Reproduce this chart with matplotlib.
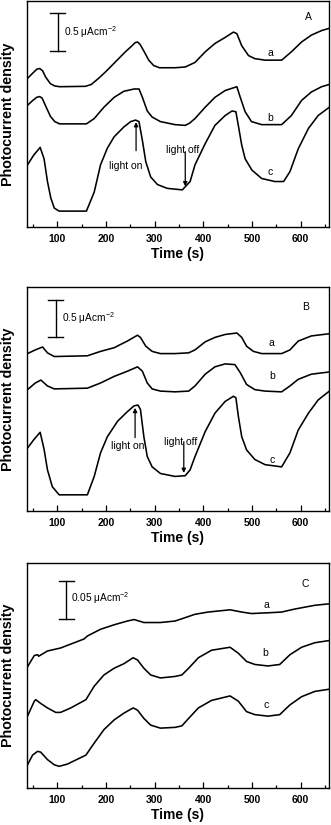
import matplotlib
matplotlib.use('Agg')
import matplotlib.pyplot as plt
from matplotlib.ticker import MultipleLocator

plt.rcParams['font.family'] = ['Liberation Sans', 'DejaVu Sans']
plt.rcParams['mathtext.fontset'] = 'custom'
plt.rcParams['mathtext.rm'] = 'Liberation Sans'
plt.rcParams['xtick.direction'] = 'in'

# ---- panel A ----
A_a_t = [39, 50, 58, 64, 70, 76, 86, 95, 105, 158, 170, 185, 200, 220, 240, 252, 260, 265, 270, 278, 288, 298, 310, 342, 363, 383, 404, 424, 445, 462, 469, 479, 493, 506, 527, 561, 581, 602, 622, 643, 659]
A_a_y = [1.96, 2.03, 2.08, 2.09, 2.06, 1.98, 1.89, 1.86, 1.85, 1.855, 1.88, 1.96, 2.05, 2.18, 2.31, 2.38, 2.43, 2.44, 2.41, 2.32, 2.20, 2.13, 2.10, 2.10, 2.11, 2.17, 2.31, 2.42, 2.50, 2.57, 2.55, 2.39, 2.26, 2.22, 2.20, 2.20, 2.31, 2.44, 2.53, 2.59, 2.62]
A_b_t = [39, 50, 58, 64, 69, 76, 86, 95, 105, 160, 176, 196, 217, 237, 258, 268, 275, 285, 295, 312, 342, 363, 372, 383, 404, 424, 445, 469, 476, 486, 499, 520, 561, 581, 602, 622, 643, 659]
A_b_y = [1.605, 1.67, 1.71, 1.72, 1.70, 1.60, 1.46, 1.39, 1.36, 1.36, 1.43, 1.58, 1.71, 1.79, 1.82, 1.82, 1.71, 1.53, 1.45, 1.39, 1.35, 1.34, 1.37, 1.43, 1.58, 1.71, 1.80, 1.85, 1.71, 1.52, 1.39, 1.35, 1.35, 1.47, 1.67, 1.78, 1.85, 1.88]
A_c_t = [39, 52, 65, 73, 80, 87, 94, 104, 160, 176, 189, 203, 217, 237, 251, 261, 268, 275, 282, 292, 306, 326, 357, 373, 383, 404, 424, 445, 459, 467, 472, 479, 486, 500, 520, 547, 565, 578, 595, 616, 636, 659]
A_c_y = [0.82, 0.95, 1.05, 0.90, 0.60, 0.38, 0.25, 0.21, 0.21, 0.46, 0.82, 1.04, 1.19, 1.32, 1.39, 1.41, 1.39, 1.14, 0.86, 0.66, 0.56, 0.51, 0.49, 0.60, 0.82, 1.10, 1.34, 1.47, 1.53, 1.52, 1.34, 1.08, 0.90, 0.75, 0.64, 0.60, 0.60, 0.73, 1.03, 1.30, 1.47, 1.58]

# ---- panel B ----
B_a_t = [39, 55, 70, 80, 94, 162, 189, 217, 244, 265, 271, 282, 295, 312, 342, 370, 383, 404, 424, 445, 469, 479, 489, 503, 520, 561, 578, 595, 622, 659]
B_a_y = [2.14, 2.19, 2.23, 2.15, 2.10, 2.11, 2.17, 2.22, 2.31, 2.39, 2.36, 2.24, 2.17, 2.14, 2.14, 2.15, 2.19, 2.30, 2.36, 2.40, 2.42, 2.36, 2.24, 2.17, 2.14, 2.14, 2.19, 2.31, 2.38, 2.41]
B_b_t = [39, 55, 66.5, 80, 94, 162, 189, 217, 244, 265, 275, 285, 295, 312, 342, 370, 383, 404, 424, 445, 465, 476, 489, 506, 527, 561, 578, 595, 622, 659]
B_b_y = [1.65, 1.74, 1.78, 1.70, 1.66, 1.67, 1.74, 1.83, 1.90, 1.96, 1.90, 1.74, 1.66, 1.63, 1.62, 1.63, 1.70, 1.86, 1.96, 2.00, 1.99, 1.88, 1.72, 1.65, 1.63, 1.62, 1.70, 1.79, 1.86, 1.89]
B_c_t = [39, 52, 65, 73, 80, 90, 104, 162, 176, 189, 203, 224, 244, 258, 266, 271, 278, 285, 295, 312, 342, 363, 373, 383, 404, 424, 445, 462, 467, 472, 479, 489, 506, 527, 561, 578, 595, 616, 636, 659]
B_c_y = [0.855, 0.97, 1.07, 0.84, 0.56, 0.33, 0.22, 0.22, 0.47, 0.79, 1.01, 1.22, 1.35, 1.43, 1.44, 1.38, 1.01, 0.74, 0.60, 0.51, 0.47, 0.48, 0.56, 0.74, 1.08, 1.33, 1.49, 1.56, 1.54, 1.29, 1.01, 0.83, 0.70, 0.63, 0.60, 0.79, 1.10, 1.33, 1.51, 1.63]

# ---- panel C ----
C_a_t = [39, 53, 59.7, 62, 80, 107, 135, 155, 162, 189, 217, 244, 258, 278, 312, 342, 356, 383, 410, 455, 479, 499, 533, 561, 588, 629, 659]
C_a_y = [0.162, 0.177, 0.178, 0.176, 0.183, 0.187, 0.194, 0.199, 0.203, 0.212, 0.218, 0.223, 0.225, 0.221, 0.221, 0.223, 0.226, 0.232, 0.235, 0.238, 0.235, 0.233, 0.234, 0.235, 0.239, 0.244, 0.246]
C_b_t = [39, 53, 56, 60, 66, 80, 97, 107, 128, 159, 176, 196, 217, 237, 256, 265, 278, 292, 312, 342, 356, 370, 390, 417, 455, 472, 489, 506, 533, 557, 578, 602, 629, 659]
C_b_y = [0.096, 0.116, 0.118, 0.116, 0.113, 0.107, 0.101, 0.101, 0.107, 0.118, 0.136, 0.151, 0.160, 0.166, 0.174, 0.171, 0.160, 0.151, 0.147, 0.149, 0.151, 0.160, 0.174, 0.184, 0.188, 0.180, 0.169, 0.165, 0.163, 0.165, 0.178, 0.188, 0.194, 0.197]
C_c_t = [39, 49.5, 59.7, 66, 80, 94, 104, 121, 159, 176, 196, 217, 237, 256, 265, 278, 292, 312, 342, 356, 370, 390, 417, 455, 472, 489, 506, 533, 557, 578, 602, 629, 659]
C_c_y = [0.031, 0.044, 0.049, 0.048, 0.038, 0.031, 0.029, 0.032, 0.044, 0.060, 0.078, 0.091, 0.100, 0.107, 0.104, 0.093, 0.084, 0.080, 0.081, 0.083, 0.093, 0.107, 0.117, 0.123, 0.116, 0.102, 0.098, 0.096, 0.098, 0.111, 0.122, 0.129, 0.132]

fig = plt.figure(figsize=(3.31, 8.25), dpi=100)
boxes = [[0.0816, 0.7248, 0.912, 0.274],
         [0.0816, 0.3806, 0.912, 0.2715],
         [0.0816, 0.0448, 0.912, 0.2727]]

panels = [
    dict(curves=[(A_a_t, A_a_y), (A_b_t, A_b_y), (A_c_t, A_c_y)], ylim=2.98, tag='A',
         tagpos=(616, 2.77), labpos=[(537, 2.30), (538, 1.44), (538, 0.73)],
         bar=(101, 2.32, 2.82, 15), bartext='0.5 \u03bcAcm$^{-2}$', bartextpos=(114, 2.57),
         on=(262, 0.97, 1.42, 240, 0.81), off=(363, 1.03, 0.50, 358, 1.02)),
    dict(curves=[(B_a_t, B_a_y), (B_b_t, B_b_y), (B_c_t, B_c_y)], ylim=3.045, tag='B',
         tagpos=(611, 2.78), labpos=[(540, 2.29), (542, 1.83), (542, 0.70)],
         bar=(96.6, 2.37, 2.87, 15), bartext='0.5 \u03bcAcm$^{-2}$', bartextpos=(109, 2.62),
         on=(260, 0.96, 1.44, 245, 0.88), off=(360, 0.98, 0.48, 353, 0.94)),
    dict(curves=[(C_a_t, C_a_y), (C_b_t, C_b_y), (C_c_t, C_c_y)], ylim=0.3004, tag='C',
         tagpos=(609, 0.272), labpos=[(530, 0.244), (528, 0.180), (530, 0.111)],
         bar=(119, 0.226, 0.276, 15), bartext='0.05 \u03bcAcm$^{-2}$', bartextpos=(129, 0.253),
         on=None, off=None),
]

for box, p in zip(boxes, panels):
    ax = fig.add_axes(box)
    for t, y in p['curves']:
        ax.plot(t, y, color='black', lw=1.15, solid_joinstyle='round')
    ax.set_xlim(38, 658)
    ax.set_ylim(0, p['ylim'])
    ax.set_yticks([])
    ax.xaxis.set_major_locator(MultipleLocator(100))
    ax.xaxis.set_minor_locator(MultipleLocator(50))
    ax.tick_params(axis='x', which='major', length=4, width=0.9, pad=5, labelsize=7.5)
    ax.tick_params(axis='x', which='minor', length=2.5, width=0.9)
    for lab in ax.get_xticklabels():
        lab.set_fontweight('bold')
    for s in ax.spines.values():
        s.set_linewidth(1.0)
    ax.set_xlabel('Time (s)', fontsize=10, fontweight='bold', labelpad=2)
    ax.set_ylabel('Photocurrent density', fontsize=10.3, fontweight='bold')
    ax.yaxis.set_label_coords(-0.04, 0.5)

    ax.text(p['tagpos'][0], p['tagpos'][1], p['tag'], fontsize=7.5, ha='center', va='center')
    for name, (x, y) in zip(['a', 'b', 'c'], p['labpos']):
        ax.text(x, y, name, fontsize=7.5, ha='center', va='center')

    bx, by0, by1, bw = p['bar']
    ax.plot([bx, bx], [by0, by1], color='black', lw=1.0)
    ax.plot([bx - bw, bx + bw], [by0, by0], color='black', lw=1.0)
    ax.plot([bx - bw, bx + bw], [by1, by1], color='black', lw=1.0)
    ax.text(p['bartextpos'][0], p['bartextpos'][1], p['bartext'], fontsize=7.3,
            ha='left', va='center')

    if p['on'] is not None:
        x, y0, y1, tx, ty = p['on']
        ax.annotate('', xy=(x, y1), xytext=(x, y0),
                    arrowprops=dict(arrowstyle='-|>', color='black', lw=0.9, mutation_scale=6))
        ax.text(tx, ty, 'light on', fontsize=7.5, ha='center', va='center')
        x, y0, y1, tx, ty = p['off']
        ax.annotate('', xy=(x, y1), xytext=(x, y0),
                    arrowprops=dict(arrowstyle='-|>', color='black', lw=0.9, mutation_scale=6))
        ax.text(tx, ty, 'light off', fontsize=7.5, ha='center', va='center')

fig.savefig('out.png', dpi=100)
